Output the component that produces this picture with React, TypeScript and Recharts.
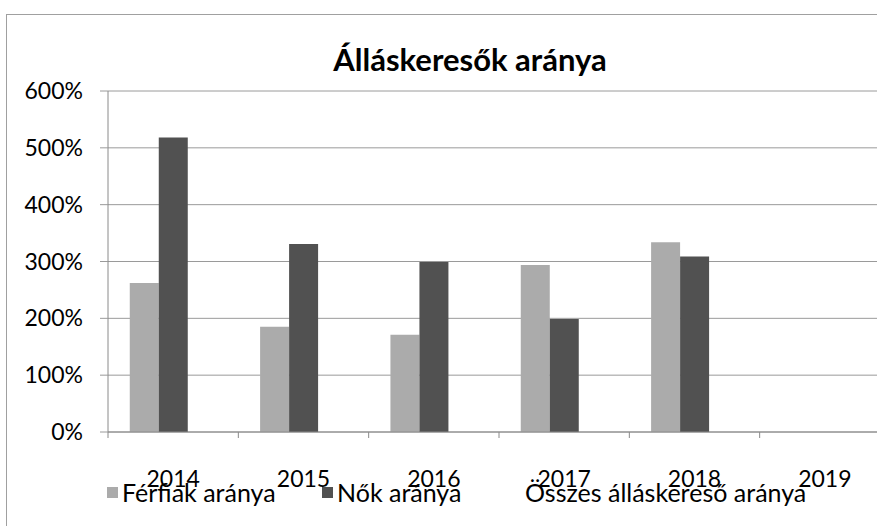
import { BarChart, Bar, XAxis, YAxis, CartesianGrid, Legend } from 'recharts';

const years = ['2014', '2015', '2016', '2017', '2018', '2019'];
const ferfiak = [262, 185, 171, 294, 334, 0];
const nok = [518, 331, 299, 199, 309, 0];
const osszes = [0, 0, 0, 0, 0, 0];
const yTicks = [0, 100, 200, 300, 400, 500, 600];

const SERIES = [
  { key: 'ferfiak', label: 'Férfiak aránya', color: '#ababab' },
  { key: 'nok', label: 'Nők aránya', color: '#515151' },
  { key: 'osszes', label: 'Összes álláskereső aránya', color: '#ffffff' },
];

const FONT = 'Lato, "Liberation Sans", sans-serif';

const chartData = years.map((year, i) => ({
  year,
  ferfiak: ferfiak[i],
  nok: nok[i],
  osszes: osszes[i],
}));

// tick mark sits on the category boundary, label in the middle
function YearTick(props: any) {
  const { x, y, payload } = props;
  const half = payload && payload.offset ? payload.offset : 65;
  return (
    <g>
      <line x1={x - half} y1={y} x2={x - half} y2={y + 6} stroke="#8a8a8a" />
      <text x={x} y={y + 55} textAnchor="middle" fontSize={23} fill="#000" fontFamily={FONT}>
        {payload.value}
      </text>
    </g>
  );
}

const itemWidths = [215, 188, 360];

function LegendContent() {
  return (
    <div style={{ display: 'flex', fontFamily: FONT, fontSize: 25, color: '#000', lineHeight: '28px' }}>
      {SERIES.map((s, i) => (
        <div key={s.key} style={{ display: 'flex', alignItems: 'center', width: itemWidths[i] }}>
          <span style={{ display: 'inline-block', width: 11, height: 11, background: s.color, marginRight: 4 }} />
          <span>{s.label}</span>
        </div>
      ))}
    </div>
  );
}

export default function App() {
  return (
    <div style={{ position: 'absolute', left: 0, top: 0, width: 877, height: 526, overflow: 'hidden', background: '#fff' }}>
      <div
        style={{
          position: 'absolute', left: 6, top: 14, width: 900, height: 600,
          borderLeft: '1px solid #a0a0a0', borderTop: '1px solid #a0a0a0',
        }}
      />
      <div
        style={{
          position: 'absolute', left: 470, top: 40, transform: 'translateX(-50%)',
          fontFamily: FONT, fontWeight: 700, fontSize: 31, whiteSpace: 'nowrap', color: '#000',
        }}
      >
        Álláskeresők aránya
      </div>
      <div style={{ position: 'absolute', left: 0, top: 0 }}>
        <BarChart
          width={890}
          height={526}
          data={chartData}
          margin={{ top: 91, right: 0, left: 0, bottom: 34 }}
          barCategoryGap="16.7%"
          barGap={0}
        >
          <CartesianGrid vertical={false} stroke="#9a9a9a" />
          <XAxis
            dataKey="year"
            height={60}
            axisLine={{ stroke: '#8a8a8a' }}
            tickLine={false}
            tickSize={0}
            tickMargin={0}
            tick={<YearTick />}
            interval={0}
          />
          <YAxis
            width={108}
            domain={[0, 600]}
            ticks={yTicks}
            tickFormatter={(v) => `${v}%`}
            axisLine={{ stroke: '#8a8a8a' }}
            tickLine={{ stroke: '#9a9a9a' }}
            tickSize={8}
            tickMargin={17}
            tick={{ fontSize: 23, fill: '#000', fontFamily: FONT }}
          />
          <Legend
            verticalAlign="middle"
            align="center"
            content={<LegendContent />}
            wrapperStyle={{ left: 107, top: 478, width: 780 }}
          />
          {SERIES.map((s) => (
            <Bar key={s.key} dataKey={s.key} name={s.label} fill={s.color} isAnimationActive={false} />
          ))}
        </BarChart>
      </div>
    </div>
  );
}
